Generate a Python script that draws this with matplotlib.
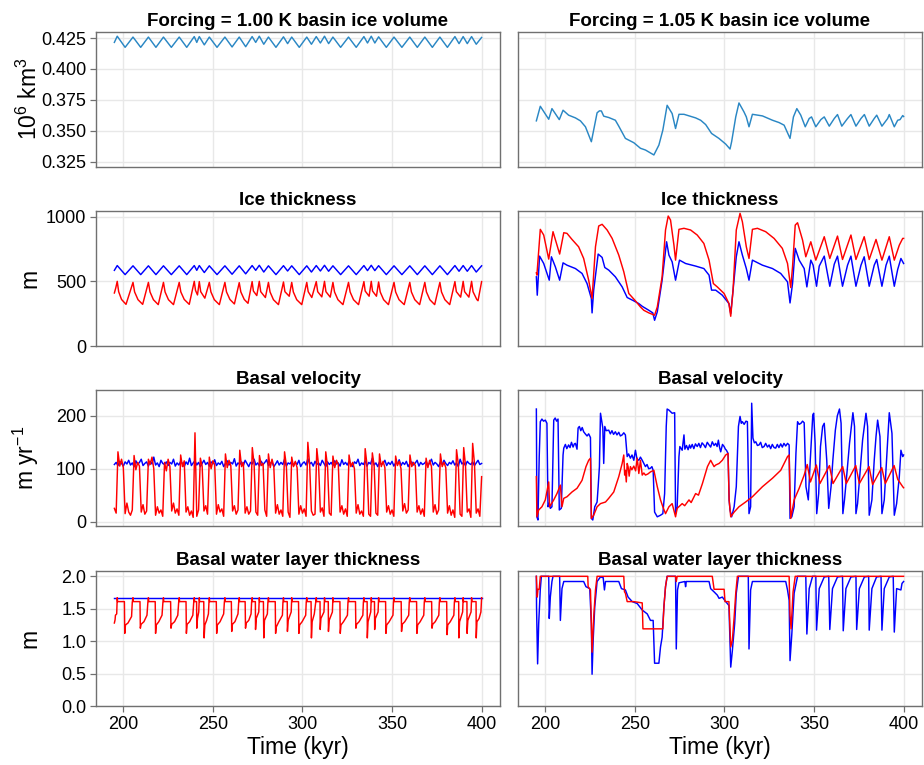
import numpy as np
import matplotlib.pyplot as plt

plt.rcParams['font.family'] = ['Liberation Sans', 'DejaVu Sans']
plt.rcParams['mathtext.fontset'] = 'custom'
plt.rcParams['mathtext.rm'] = 'Liberation Sans'
plt.rcParams['mathtext.it'] = 'Liberation Sans:italic'

# ---------------- data ----------------
# left column: forcing = 1.00 K
vol_left_t = [195.0, 196.6, 201.0, 205.4, 209.7, 214.0, 218.2, 222.4, 226.8, 231.2,
              235.4, 239.6, 241.0, 242.4, 245.2, 248.0, 252.3, 256.7, 260.7, 264.7,
              268.3, 271.9, 273.9, 275.9, 278.4, 281.0, 285.2, 289.4, 291.7, 294.0,
              298.2, 302.4, 305.0, 307.7, 310.0, 312.3, 314.6, 317.0, 321.3, 325.7,
              330.0, 334.3, 336.3, 338.4, 340.4, 342.5, 346.8, 351.1, 355.5, 359.9,
              364.1, 368.3, 372.5, 376.7, 380.9, 385.1, 387.4, 389.7, 392.0, 394.4,
              397.0, 400.0]
vol_left = [0.4215, 0.4265, 0.4175, 0.4258, 0.4175, 0.4258, 0.4175, 0.4258, 0.4175, 0.4258,
            0.4175, 0.4262, 0.4215, 0.4262, 0.4195, 0.4258, 0.4175, 0.4258, 0.4178, 0.4258,
            0.4180, 0.4262, 0.4215, 0.4265, 0.4200, 0.4258, 0.4175, 0.4260, 0.4205, 0.4258,
            0.4175, 0.4258, 0.4200, 0.4262, 0.4210, 0.4265, 0.4205, 0.4258, 0.4175, 0.4258,
            0.4175, 0.4262, 0.4210, 0.4265, 0.4210, 0.4260, 0.4175, 0.4258, 0.4175, 0.4258,
            0.4175, 0.4258, 0.4175, 0.4258, 0.4175, 0.4262, 0.4205, 0.4262, 0.4205, 0.4262,
            0.4200, 0.4255]
thick_left_blue = [585, 622, 552, 620, 552, 620, 552, 620, 552, 620,
                   552, 622, 585, 622, 568, 620, 552, 620, 555, 620,
                   558, 622, 585, 624, 572, 620, 552, 621, 580, 620,
                   552, 620, 572, 622, 580, 624, 578, 620, 552, 620,
                   552, 622, 583, 624, 583, 621, 552, 620, 552, 620,
                   552, 620, 552, 620, 552, 622, 578, 622, 578, 622,
                   572, 620]

thick_left_red_t = [195.0, 195.8,
                    196.6, 197.4, 199.0, 201.5, 205.4, 206.3, 208.2, 210.8,
                    214.0, 214.9, 216.8, 219.5, 222.4, 223.3, 225.2, 228.0,
                    231.2, 232.1, 234.0, 236.8, 239.6, 240.3, 241.4,
                    242.4, 243.2, 245.5, 248.0, 248.9, 250.8, 253.6,
                    256.7, 257.6, 259.5, 262.0, 264.7, 265.6, 267.5, 269.6,
                    271.9, 272.6, 274.5, 275.9, 276.7, 279.3,
                    281.0, 281.9, 283.8, 286.6, 289.4, 290.2, 292.6,
                    294.0, 294.9, 296.8, 299.6, 302.4, 303.2, 305.2,
                    307.7, 308.5, 310.8, 312.3, 313.1, 315.5,
                    317.0, 317.9, 319.8, 322.6, 325.7, 326.6, 328.5, 331.3,
                    334.3, 335.0, 337.2, 338.4, 339.1, 341.3,
                    342.5, 343.4, 345.3, 348.0, 351.1, 352.0, 353.9, 356.8,
                    359.9, 360.8, 362.7, 365.4, 368.3, 369.2, 371.1, 373.8,
                    376.7, 377.6, 379.5, 382.2, 385.1, 385.9, 388.3,
                    389.7, 390.5, 392.9, 394.4, 395.2, 397.3, 398.0, 400.0]
thick_left_red = [410, 450,
                  500, 420, 360, 322, 492, 418, 358, 322,
                  492, 418, 358, 320, 492, 418, 358, 320,
                  492, 418, 360, 322, 500, 430, 395,
                  498, 420, 370, 492, 418, 358, 320,
                  492, 418, 360, 325, 490, 418, 360, 330,
                  498, 425, 390, 500, 420, 375,
                  492, 418, 358, 320, 495, 420, 385,
                  492, 418, 358, 320, 492, 420, 375,
                  498, 420, 380, 500, 420, 378,
                  492, 418, 358, 320, 492, 418, 358, 320,
                  498, 425, 385, 500, 425, 385,
                  495, 418, 358, 320, 492, 418, 358, 320,
                  492, 418, 358, 320, 492, 418, 358, 320,
                  492, 418, 358, 320, 498, 420, 378,
                  500, 420, 378, 500, 420, 360, 350, 498]

# basal velocity, sampled every 1 kyr from 195 to 400
t_grid = np.arange(195, 401)
vel_left_blue = [108, 112, 106, 114, 110, 105, 113, 109, 116, 107,
                 111, 104, 115, 108, 112, 118, 106, 110, 113, 105,
                 114, 109, 122, 107, 111, 104, 116, 110, 108, 113,
                 106, 112, 109, 118, 105, 111, 107, 114, 110, 104,
                 113, 108, 120, 106, 111, 115, 107, 112, 104, 110,
                 116, 108, 112, 105, 113, 109, 117, 106, 111, 108,
                 114, 104, 110, 115, 107, 112, 109, 119, 105, 111,
                 108, 113, 106, 116, 110, 104, 112, 109, 118, 107,
                 111, 105, 114, 108, 112, 117, 106, 110, 113, 104,
                 109, 115, 107, 112, 108, 118, 105, 111, 109, 114,
                 106, 112, 108, 116, 104, 110, 113, 107, 119, 109,
                 112, 105, 114, 108, 111, 106, 116, 110, 104, 113,
                 108, 112, 106, 115, 109, 111, 105, 117, 108, 112,
                 107, 114, 109, 104, 113, 110, 118, 106, 111, 108,
                 115, 105, 112, 109, 120, 107, 111, 104, 113, 108,
                 110, 116, 106, 112, 108, 114, 105, 111, 109, 117,
                 106, 112, 108, 114, 104, 110, 113, 107, 111, 116,
                 105, 112, 108, 110, 114, 106, 111, 118, 107, 112,
                 109, 104, 113, 108, 116, 110, 106, 112, 109, 115,
                 107, 111, 104, 118, 109, 112, 106, 114, 110, 108,
                 113, 106, 111, 116, 108, 110]
vel_left_red = [25, 16, 132, 105, 118, 102, 15, 35, 18, 12,
                22, 125, 98, 112, 105, 18, 32, 14, 20, 118,
                108, 122, 100, 12, 28, 16, 22, 10, 112, 96,
                118, 104, 20, 35, 16, 24, 12, 126, 104, 115,
                18, 28, 12, 20, 8, 168, 10, 22, 120, 105,
                20, 30, 14, 122, 100, 115, 108, 14, 32, 18,
                24, 10, 128, 102, 116, 106, 20, 30, 14, 22,
                135, 104, 112, 16, 28, 14, 20, 140, 108, 18,
                12, 125, 106, 110, 22, 10, 128, 102, 118, 104,
                16, 32, 14, 22, 10, 132, 106, 18, 8, 122,
                104, 114, 102, 14, 30, 16, 24, 10, 150, 108,
                20, 12, 14, 138, 106, 18, 26, 10, 132, 104,
                16, 12, 124, 102, 116, 108, 18, 30, 14, 24,
                10, 126, 104, 112, 100, 16, 32, 14, 20, 10,
                138, 108, 14, 10, 130, 106, 16, 12, 128, 104,
                114, 102, 18, 30, 14, 22, 10, 124, 106, 114,
                100, 20, 34, 16, 22, 126, 104, 112, 106, 18,
                30, 14, 24, 10, 120, 102, 116, 104, 18, 32,
                14, 22, 128, 104, 112, 102, 16, 30, 12, 22,
                8, 136, 108, 14, 10, 140, 106, 18, 24, 8,
                148, 110, 16, 24, 10, 85]

water_left_blue_t = [195.0, 400.0]
water_left_blue = [1.667, 1.667]
water_left_red_t = [195.0, 195.4, 195.6, 196.3,
                    196.6, 196.8, 200.6, 200.8, 201.2, 202.6, 204.6, 205.0,
                    205.4, 205.6, 209.3, 209.5, 209.9, 211.5, 213.2, 213.7,
                    214.0, 214.2, 217.8, 218.0, 218.4, 219.8, 221.6, 222.1,
                    222.4, 222.6, 226.4, 226.6, 227.0, 228.6, 230.4, 230.9,
                    231.2, 231.4, 235.0, 235.2, 235.6, 237.0, 238.8, 239.3,
                    239.6, 239.8, 240.9, 241.0, 241.4, 242.1,
                    242.4, 242.6, 244.9, 245.1, 245.5, 246.5, 247.5, 247.8,
                    248.0, 248.2, 251.9, 252.1, 252.5, 254.0, 256.0, 256.4,
                    256.7, 256.9, 260.3, 260.5, 260.9, 262.3, 264.0, 264.4,
                    264.7, 264.9, 268.0, 268.2, 268.6, 270.0, 271.3, 271.6,
                    271.9, 272.1, 273.7, 273.8, 274.2, 275.6,
                    275.9, 276.1, 278.2, 278.4, 278.8, 280.4, 280.7,
                    281.0, 281.2, 284.8, 285.0, 285.4, 286.8, 288.8, 289.1,
                    289.4, 289.6, 291.5, 291.6, 292.0, 293.7,
                    294.0, 294.2, 297.8, 298.0, 298.4, 299.8, 301.8, 302.1,
                    302.4, 302.6, 304.8, 305.0, 305.4, 306.6, 307.4,
                    307.7, 307.9, 309.8, 309.9, 310.3, 312.0,
                    312.3, 312.5, 314.4, 314.5, 314.9, 316.7,
                    317.0, 317.2, 320.9, 321.1, 321.5, 322.9, 325.1, 325.4,
                    325.7, 325.9, 329.6, 329.8, 330.2, 331.6, 333.7, 334.0,
                    334.3, 334.5, 336.1, 336.2, 336.6, 338.1,
                    338.4, 338.6, 340.2, 340.3, 340.7, 342.2,
                    342.5, 342.7, 346.4, 346.6, 347.0, 348.4, 350.5, 350.8,
                    351.1, 351.3, 355.1, 355.3, 355.7, 357.1, 359.3, 359.6,
                    359.9, 360.1, 363.7, 363.9, 364.3, 365.7, 367.7, 368.0,
                    368.3, 368.5, 372.1, 372.3, 372.7, 374.1, 376.1, 376.4,
                    376.7, 376.9, 380.5, 380.7, 381.1, 382.5, 384.5, 384.8,
                    385.1, 385.3, 387.2, 387.3, 387.7, 389.4,
                    389.7, 389.9, 391.8, 391.9, 392.3, 394.1,
                    394.4, 394.6, 396.9, 397.0, 397.4, 398.6, 399.6, 400.0]
water_left_red = [1.28, 1.33, 1.40, 1.42,
                  1.67, 1.61, 1.61, 1.12, 1.25, 1.28, 1.38, 1.60,
                  1.67, 1.61, 1.61, 1.20, 1.26, 1.30, 1.40, 1.60,
                  1.67, 1.61, 1.61, 1.12, 1.25, 1.30, 1.40, 1.60,
                  1.67, 1.61, 1.61, 1.20, 1.26, 1.30, 1.40, 1.60,
                  1.67, 1.61, 1.61, 1.12, 1.26, 1.30, 1.40, 1.60,
                  1.67, 1.61, 1.61, 1.20, 1.35, 1.45,
                  1.67, 1.61, 1.61, 1.05, 1.25, 1.32, 1.42, 1.60,
                  1.67, 1.61, 1.61, 1.12, 1.25, 1.30, 1.42, 1.60,
                  1.67, 1.61, 1.61, 1.15, 1.26, 1.30, 1.42, 1.60,
                  1.67, 1.61, 1.61, 1.20, 1.28, 1.32, 1.42, 1.60,
                  1.67, 1.61, 1.61, 1.18, 1.35, 1.45,
                  1.67, 1.61, 1.61, 1.05, 1.32, 1.42, 1.60,
                  1.67, 1.61, 1.61, 1.12, 1.22, 1.30, 1.40, 1.60,
                  1.67, 1.61, 1.61, 1.15, 1.32, 1.45,
                  1.67, 1.61, 1.61, 1.12, 1.25, 1.30, 1.40, 1.60,
                  1.67, 1.61, 1.61, 1.05, 1.30, 1.42, 1.60,
                  1.67, 1.61, 1.61, 1.18, 1.35, 1.45,
                  1.67, 1.61, 1.61, 1.15, 1.32, 1.45,
                  1.67, 1.61, 1.61, 1.12, 1.25, 1.30, 1.40, 1.60,
                  1.67, 1.61, 1.61, 1.20, 1.26, 1.30, 1.40, 1.60,
                  1.67, 1.61, 1.61, 1.05, 1.30, 1.45,
                  1.67, 1.61, 1.61, 1.18, 1.35, 1.45,
                  1.67, 1.61, 1.61, 1.12, 1.25, 1.30, 1.40, 1.60,
                  1.67, 1.61, 1.61, 1.15, 1.26, 1.30, 1.40, 1.60,
                  1.67, 1.61, 1.61, 1.12, 1.25, 1.30, 1.40, 1.60,
                  1.67, 1.61, 1.61, 1.20, 1.26, 1.30, 1.40, 1.60,
                  1.67, 1.61, 1.61, 1.10, 1.25, 1.30, 1.40, 1.60,
                  1.67, 1.61, 1.61, 1.05, 1.30, 1.45,
                  1.67, 1.61, 1.61, 1.12, 1.32, 1.45,
                  1.67, 1.61, 1.61, 1.05, 1.30, 1.35, 1.45, 1.67]

# right column: forcing = 1.05 K
vol_right_t = [195.0, 197.2, 201.9, 203.7, 207.8, 209.9, 213.0, 216.8, 219.6, 222.4,
               225.7, 228.9, 230.2, 231.3, 232.6, 235.4, 239.1, 241.0, 244.7, 249.4,
               253.1, 255.9, 260.6, 263.4, 265.6, 268.0, 270.8, 272.7, 274.6, 277.4,
               283.9, 286.7, 289.5, 292.8, 296.9, 300.7, 303.1, 304.0, 306.3, 308.1,
               310.9, 312.2, 313.7, 315.6, 321.2, 326.8, 330.5, 333.3, 336.6, 338.5,
               340.4, 342.6, 345.1, 347.3, 348.6, 351.0, 353.8, 355.7, 358.5, 361.3,
               363.1, 365.5, 368.7, 370.6, 373.4, 376.2, 378.1, 380.8, 383.6, 385.0,
               387.9, 391.1, 392.0, 394.8, 396.7, 398.0, 399.5, 400.0]
vol_right = [0.3580, 0.3698, 0.3593, 0.3679, 0.3590, 0.3666, 0.3626, 0.3604, 0.3580, 0.3532,
             0.3411, 0.3645, 0.3661, 0.3660, 0.3618, 0.3607, 0.3585, 0.3537, 0.3438, 0.3403,
             0.3358, 0.3344, 0.3304, 0.3384, 0.3505, 0.3706, 0.3639, 0.3518, 0.3633, 0.3633,
             0.3604, 0.3585, 0.3550, 0.3478, 0.3438, 0.3392, 0.3352, 0.3411, 0.3612, 0.3725,
             0.3652, 0.3612, 0.3532, 0.3633, 0.3620, 0.3585, 0.3566, 0.3545, 0.3438, 0.3612,
             0.3679, 0.3626, 0.3532, 0.3599, 0.3612, 0.3532, 0.3590, 0.3612, 0.3537, 0.3599,
             0.3631, 0.3537, 0.3599, 0.3631, 0.3537, 0.3599, 0.3631, 0.3537, 0.3599, 0.3626,
             0.3537, 0.3599, 0.3631, 0.3532, 0.3585, 0.3590, 0.3623, 0.3615]

thick_right_red_t = [195.0, 195.3, 197.2, 199.1, 201.9, 204.3, 208.0, 210.3, 212.1, 214.9,
                     218.6, 221.4, 224.2, 226.1, 228.0, 229.8, 231.7, 234.5, 237.3, 241.0,
                     243.8, 246.6, 250.3, 253.1, 255.0, 257.8, 261.0, 262.5, 265.2, 267.1,
                     268.6, 269.9, 271.8, 272.7, 274.6, 277.4, 281.1, 284.8, 288.5, 291.4,
                     293.8, 296.0, 299.8, 302.5, 303.5, 304.8, 306.6, 308.7, 310.0, 312.2,
                     313.7, 315.6, 318.4, 323.0, 327.7, 332.3, 335.2, 337.0, 338.0, 339.5,
                     340.8, 343.6, 345.4, 348.2, 351.0, 355.7, 358.8, 363.1, 365.9, 370.6,
                     373.4, 378.0, 380.8, 384.6, 387.9, 392.0, 394.8, 397.6, 399.5, 400.0]
thick_right_red = [566, 548, 902, 858, 672, 884, 711, 876, 871, 824,
                   767, 677, 509, 367, 767, 928, 941, 897, 832, 703,
                   574, 406, 349, 302, 276, 256, 238, 302, 535, 897,
                   1005, 974, 780, 664, 902, 910, 897, 858, 793, 664,
                   483, 457, 406, 328, 230, 432, 897, 1026, 961, 767,
                   677, 902, 910, 884, 832, 755, 638, 452, 612, 935,
                   953, 819, 690, 806, 664, 845, 677, 850, 669, 858,
                   669, 845, 669, 824, 664, 845, 664, 780, 832, 832]
thick_right_blue_t = [195.0, 195.5, 196.8, 199.1, 202.2, 203.4, 205.6, 208.0, 209.9, 212.1,
                      216.8, 220.5, 223.3, 225.7, 226.1, 227.0, 229.5, 231.7, 233.2, 235.4,
                      239.1, 242.9, 245.7, 249.4, 252.2, 254.1, 257.8, 260.0, 261.0, 262.5,
                      265.2, 267.7, 269.0, 270.8, 272.7, 274.9, 278.3, 283.9, 288.5, 291.4,
                      292.8, 295.1, 298.8, 302.5, 303.5, 304.8, 306.6, 308.1, 310.0, 312.2,
                      313.7, 315.6, 321.2, 326.8, 331.4, 335.2, 336.6, 338.0, 339.5, 341.7,
                      344.5, 346.0, 348.2, 349.5, 351.4, 352.9, 355.7, 358.8, 361.3, 363.1,
                      365.9, 368.7, 370.6, 373.4, 376.2, 378.0, 380.8, 383.6, 385.0, 387.9,
                      390.2, 392.0, 394.8, 396.7, 398.5, 400.0]
thick_right_blue = [535, 393, 695, 638, 509, 690, 612, 509, 643, 625,
                    599, 561, 483, 367, 256, 432, 711, 685, 607, 587,
                    535, 457, 375, 349, 328, 307, 276, 256, 199, 264,
                    509, 806, 703, 651, 509, 664, 638, 618, 599, 548,
                    432, 432, 393, 328, 251, 432, 690, 806, 703, 599,
                    509, 664, 625, 599, 561, 496, 333, 483, 755, 664,
                    599, 457, 664, 625, 462, 618, 695, 462, 633, 695,
                    462, 625, 695, 462, 625, 690, 462, 625, 669, 462,
                    625, 695, 462, 592, 677, 638]

# (time kyr, velocity m/yr) pairs
vel_right_blue_pts = [
    (195.0, 213), (195.3, 9), (195.9, 3), (196.6, 123), (197.2, 189), (198.1, 194),
    (199.0, 190), (200.0, 192), (200.9, 186), (201.5, 28), (202.2, 35), (202.8, 25),
    (203.7, 28), (204.7, 192), (205.5, 196), (206.3, 190), (207.1, 194), (207.8, 22),
    (208.9, 25), (209.9, 126), (210.3, 139), (211.2, 146), (212.0, 138), (213.0, 145),
    (213.8, 140), (214.6, 150), (215.5, 141), (216.2, 147), (216.8, 148), (217.7, 137),
    (218.3, 177), (219.0, 180), (219.8, 172), (220.6, 178), (221.4, 170), (222.3, 166),
    (223.3, 162), (224.2, 166), (225.2, 159), (225.7, 6), (226.5, 3), (227.6, 28),
    (228.9, 37), (229.5, 66), (230.2, 104), (230.8, 205), (231.5, 190), (232.1, 177),
    (232.6, 110), (233.2, 180), (234.0, 172), (235.4, 173), (236.3, 166), (237.2, 172),
    (238.1, 165), (239.1, 170), (240.0, 164), (241.0, 169), (241.9, 162), (242.9, 164),
    (243.8, 168), (244.7, 164), (245.7, 123), (246.5, 128), (247.5, 120), (248.4, 126),
    (249.4, 116), (250.3, 135), (251.2, 118), (252.2, 116), (253.1, 122), (254.1, 116),
    (255.0, 110), (255.9, 104), (256.8, 108), (257.7, 100), (258.7, 101), (259.5, 104),
    (260.2, 97), (261.0, 18), (262.5, 9), (264.3, 12), (265.6, 15), (266.6, 53),
    (267.5, 180), (268.0, 213), (269.0, 211), (270.8, 205), (272.2, 206), (272.7, 15),
    (273.6, 28), (274.6, 123), (275.1, 142), (276.4, 135), (277.4, 164), (277.9, 137),
    (278.8, 144), (279.7, 136), (280.5, 145), (281.1, 139), (282.0, 146), (282.9, 138),
    (283.8, 147), (284.8, 142), (285.7, 148), (286.6, 140), (287.5, 149), (288.5, 145),
    (289.4, 140), (290.4, 150), (291.4, 145), (292.3, 141), (293.2, 151), (294.2, 144),
    (295.1, 148), (295.9, 142), (296.6, 154), (297.3, 140), (297.9, 132), (298.9, 146),
    (299.8, 142), (300.5, 137), (301.1, 135), (302.0, 129), (302.6, 41), (303.1, 22),
    (304.0, 9), (305.4, 28), (306.6, 66), (307.8, 180), (308.7, 199), (309.4, 186),
    (310.0, 189), (311.0, 184), (312.0, 190), (312.8, 189), (313.7, 15), (314.6, 28),
    (315.2, 224), (315.9, 158), (316.7, 149), (317.5, 151), (318.4, 144), (319.3, 145),
    (320.2, 150), (321.1, 140), (322.1, 142), (323.0, 148), (324.0, 141), (324.9, 145),
    (325.8, 138), (326.7, 146), (327.7, 140), (328.6, 139), (329.5, 146), (330.4, 140),
    (331.4, 147), (332.3, 141), (333.2, 148), (334.2, 143), (335.2, 148), (336.1, 145),
    (336.6, 6), (337.6, 9), (338.9, 28), (339.9, 129), (340.8, 189), (341.7, 184),
    (342.7, 186), (343.6, 190), (344.5, 187), (345.5, 66), (346.8, 41), (347.9, 116),
    (349.3, 202), (349.8, 205), (350.6, 148), (351.5, 15), (352.6, 53), (353.6, 142),
    (354.8, 180), (355.7, 186), (357.1, 116), (358.2, 25), (359.5, 66), (360.5, 116),
    (361.9, 173), (363.0, 200), (364.2, 213), (365.1, 186), (366.1, 15), (367.0, 41),
    (368.5, 97), (369.8, 148), (371.7, 206), (372.6, 180), (373.4, 15), (374.3, 34),
    (376.2, 116), (377.1, 154), (379.0, 205), (379.9, 180), (380.8, 12), (382.3, 41),
    (383.6, 116), (384.6, 161), (385.5, 192), (386.8, 161), (387.9, 15), (389.2, 41),
    (390.5, 116), (392.0, 206), (393.5, 167), (394.8, 12), (396.1, 34), (397.6, 85),
    (398.5, 135), (399.5, 123), (400.0, 126)]
vel_right_red_pts = [
    (195.0, 85), (195.3, 9), (196.3, 22), (198.1, 28), (200.0, 41), (201.9, 75),
    (202.4, 28), (204.7, 41), (206.5, 53), (208.4, 69), (209.3, 28), (210.3, 44),
    (212.1, 47), (214.9, 56), (217.7, 63), (220.5, 78), (222.7, 104), (224.2, 116),
    (225.2, 120), (225.7, 6), (227.0, 12), (228.9, 28), (230.8, 34), (233.6, 37),
    (235.4, 44), (238.2, 56), (241.0, 85), (242.9, 110), (243.8, 126), (244.3, 88),
    (244.7, 97), (245.2, 75), (245.7, 110), (246.2, 104), (246.8, 86), (247.5, 104),
    (248.3, 98), (249.4, 105), (250.4, 96), (251.3, 120), (252.2, 91), (253.1, 116),
    (254.1, 88), (255.0, 92), (255.9, 88), (257.2, 90), (258.7, 94), (260.6, 97),
    (262.5, 66), (264.3, 41), (265.6, 28), (267.1, 15), (269.0, 28), (270.8, 34),
    (272.7, 9), (273.6, 25), (276.4, 34), (277.8, 30), (280.2, 41), (281.4, 36),
    (283.9, 53), (285.5, 50), (287.7, 72), (290.5, 104), (292.3, 116), (294.2, 104),
    (295.1, 107), (297.0, 110), (298.8, 116), (300.7, 126), (302.0, 129), (302.6, 41),
    (303.5, 9), (305.4, 18), (308.1, 28), (311.8, 37), (315.6, 47), (321.2, 66),
    (326.8, 82), (331.4, 97), (335.2, 123), (336.1, 126), (337.0, 6), (338.9, 41),
    (341.7, 63), (344.5, 88), (346.2, 108), (348.0, 75), (351.3, 107), (353.3, 72),
    (358.6, 106), (360.6, 72), (366.0, 104), (368.0, 72), (373.3, 106), (375.3, 72),
    (380.7, 104), (382.7, 70), (387.8, 102), (389.8, 72), (394.7, 106), (396.7, 80),
    (399.5, 66), (400.0, 64)]

water_right_red_t = [195.0, 195.5, 195.9, 196.6, 197.2, 223.7, 223.9, 225.2, 226.1, 227.0,
                     228.0, 228.9, 243.8, 244.2, 244.7, 245.7, 249.4, 254.1, 254.5, 265.6,
                     266.2, 267.1, 268.0, 272.7, 273.1, 273.6, 293.2, 294.2, 299.8, 300.3,
                     302.5, 303.5, 304.4, 305.4, 306.3, 307.2, 336.1, 336.6, 337.2, 337.6,
                     338.3, 339.5, 400.0]
water_right_red = [2.0, 1.68, 1.80, 1.80, 2.0, 2.0, 1.84, 1.79, 0.83, 1.37,
                   1.79, 2.0, 2.0, 1.76, 1.74, 1.61, 1.61, 1.59, 1.19, 1.19,
                   1.53, 1.84, 2.0, 2.0, 1.92, 2.0, 2.0, 1.80, 1.80, 1.61,
                   1.61, 0.91, 1.01, 1.37, 1.74, 2.0, 2.0, 1.40, 1.19, 1.40,
                   1.76, 2.0, 2.0]
water_right_blue_t = [195.0, 195.1, 195.7, 196.3, 197.2, 197.8, 201.9, 202.2, 202.8, 203.7,
                      204.3, 208.0, 208.4, 209.3, 210.3, 221.4, 222.7, 224.8, 225.7, 226.1,
                      226.7, 227.6, 228.9, 230.8, 232.3, 233.0, 233.6, 241.0, 242.5, 244.7,
                      246.2, 248.5, 251.3, 254.1, 256.9, 258.7, 260.2, 261.0, 263.4, 264.3,
                      265.2, 266.2, 267.1, 268.0, 272.7, 273.1, 273.8, 274.6, 277.9, 278.3,
                      278.7, 291.4, 292.3, 294.2, 296.0, 297.0, 298.8, 300.7, 302.5, 303.5,
                      304.4, 305.7, 306.6, 307.8, 313.3, 313.7, 314.6, 315.6, 334.2, 335.2,
                      336.1, 336.6, 337.6, 338.9, 340.8, 345.4, 346.0, 347.3, 349.2, 351.0,
                      351.4, 352.9, 355.7, 358.2, 358.8, 360.3, 363.1, 365.9, 366.3, 367.8,
                      370.6, 373.4, 373.8, 375.3, 378.1, 380.5, 380.8, 382.3, 384.9, 387.4,
                      387.9, 389.2, 392.0, 394.2, 394.8, 396.1, 398.5, 399.1, 400.0]
water_right_blue = [2.0, 1.53, 0.65, 1.27, 1.80, 2.0, 2.0, 1.35, 1.68, 1.92,
                    2.0, 2.0, 1.32, 1.81, 1.92, 1.92, 1.84, 1.81, 1.27, 0.49,
                    1.01, 1.53, 1.92, 1.99, 1.98, 1.79, 1.92, 1.92, 1.81, 1.79,
                    1.68, 1.61, 1.58, 1.48, 1.42, 1.32, 1.32, 0.66, 0.66, 0.91,
                    1.06, 1.53, 1.84, 2.0, 2.0, 0.88, 1.79, 1.90, 1.92, 1.84,
                    1.92, 1.92, 1.81, 1.76, 1.71, 1.66, 1.68, 1.61, 1.55, 0.60,
                    0.85, 1.27, 1.74, 2.0, 2.0, 0.88, 1.79, 1.92, 1.92, 1.79,
                    1.63, 0.70, 1.11, 1.74, 2.0, 2.0, 1.11, 1.81, 2.0, 2.0,
                    1.17, 1.81, 1.99, 2.0, 1.18, 1.81, 1.99, 2.0, 1.16, 1.81,
                    1.99, 2.0, 1.18, 1.81, 1.99, 2.0, 1.17, 1.81, 1.99, 2.0,
                    1.17, 1.81, 1.99, 2.0, 1.14, 1.81, 1.79, 1.89, 1.92]

titles_top = ["Forcing = 1.00 K basin ice volume", "Forcing = 1.05 K basin ice volume"]
row_titles = ["Ice thickness", "Basal velocity", "Basal water layer thickness"]
ylabels = [r"$\mathregular{10^6\ km^3}$", "m", r"$\mathregular{m\ yr^{-1}}$", "m"]
xticks = [200, 250, 300, 350, 400]
yticks = [[0.325, 0.350, 0.375, 0.400, 0.425], [0, 500, 1000], [0, 100, 200],
          [0.0, 0.5, 1.0, 1.5, 2.0]]
ytick_labels = [["0.325", "0.350", "0.375", "0.400", "0.425"], ["0", "500", "1000"],
                ["0", "100", "200"], ["0.0", "0.5", "1.0", "1.5", "2.0"]]
ylims = [(0.3209, 0.4303), (0, 1044), (-8.4, 249), (0, 2.082)]

# ---------------- figure ----------------
fig = plt.figure(figsize=(9.24, 7.65), dpi=100)
col_x = [0.1039, 0.5606]
col_w = 0.4372
rows = [(0.7821, 0.1767), (0.5477, 0.1765), (0.3124, 0.1778), (0.0771, 0.1765)]
axes = [[fig.add_axes([x, b, col_w, h]) for x in col_x] for b, h in rows]

spine_col = "#707070"
vol_col = "#2a87c4"
lw = 1.05

for r in range(4):
    for c in range(2):
        ax = axes[r][c]
        ax.set_xlim(184.75, 410.25)
        ax.set_ylim(*ylims[r])
        ax.set_xticks(xticks)
        ax.set_yticks(yticks[r])
        ax.set_yticklabels(ytick_labels[r])
        ax.grid(True, color="#e8e8e8", lw=1.0)
        ax.set_axisbelow(True)
        for s in ax.spines.values():
            s.set_color(spine_col)
            s.set_linewidth(1.0)
        ax.tick_params(direction="out", length=4, width=0.9, color=spine_col,
                       labelsize=13, pad=3)
        if r < 3:
            ax.tick_params(axis="x", bottom=False, labelbottom=False)
        else:
            ax.set_xlabel("Time (kyr)", fontsize=16.5, labelpad=2)
        if c == 1:
            ax.tick_params(axis="y", left=False, labelleft=False)
        else:
            ax.set_ylabel(ylabels[r], fontsize=16.5)
            ax.yaxis.set_label_coords(-0.135, 0.5)
        title = titles_top[c] if r == 0 else row_titles[r - 1]
        ax.set_title(title, fontsize=13.5, fontweight="bold", pad=4)

# ice volume
axes[0][0].plot(vol_left_t, vol_left, color=vol_col, lw=lw)
axes[0][1].plot(vol_right_t, vol_right, color=vol_col, lw=lw)

# ice thickness
axes[1][0].plot(vol_left_t, thick_left_blue, color="blue", lw=lw)
axes[1][0].plot(thick_left_red_t, thick_left_red, color="red", lw=lw)
axes[1][1].plot(thick_right_blue_t, thick_right_blue, color="blue", lw=lw)
axes[1][1].plot(thick_right_red_t, thick_right_red, color="red", lw=lw)

# basal velocity
axes[2][0].plot(t_grid, vel_left_blue, color="blue", lw=lw)
axes[2][0].plot(t_grid, vel_left_red, color="red", lw=lw)
vrb_t, vrb_v = zip(*vel_right_blue_pts)
vrr_t, vrr_v = zip(*vel_right_red_pts)
axes[2][1].plot(vrb_t, vrb_v, color="blue", lw=lw)
axes[2][1].plot(vrr_t, vrr_v, color="red", lw=lw)

# basal water layer thickness
axes[3][0].plot(water_left_blue_t, water_left_blue, color="blue", lw=lw)
axes[3][0].plot(water_left_red_t, water_left_red, color="red", lw=lw)
axes[3][1].plot(water_right_blue_t, water_right_blue, color="blue", lw=lw)
axes[3][1].plot(water_right_red_t, water_right_red, color="red", lw=lw)

fig.savefig("out.png", dpi=100)
